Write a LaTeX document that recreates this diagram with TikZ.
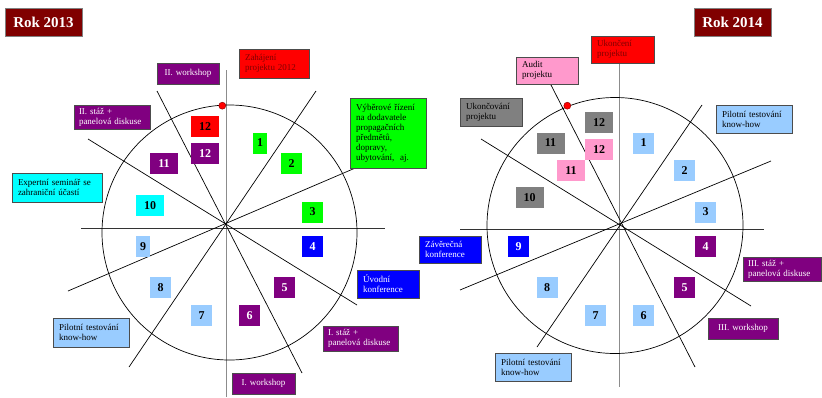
\documentclass[tikz,border=0pt]{standalone}
\usepackage{fontspec}
\setmainfont{Liberation Serif}
\usetikzlibrary{calc}
\definecolor{yearred}{HTML}{800000}
\definecolor{vpurple}{HTML}{800080}
\definecolor{vred}{HTML}{FF0000}
\definecolor{vgreen}{HTML}{00FF00}
\definecolor{vcyan}{HTML}{00FFFF}
\definecolor{vblue}{HTML}{0000FF}
\definecolor{vlight}{HTML}{99CCFF}
\definecolor{vpink}{HTML}{FF99CC}
\definecolor{vgrey}{HTML}{808080}
\def\tagfont{\fontsize{9}{10}\selectfont}
\tikzset{
	tag/.style={draw=black!70, line width=0.7pt, inner sep=0pt, align=left, font=\tagfont},
	num/.style={inner sep=0pt, minimum width=21, minimum height=21, font=\bfseries\fontsize{12}{12}\selectfont},
	twodig/.style={minimum width=28},
	slimdig/.style={minimum width=14},
	yearbox/.style={fill=yearred, draw=black!50, line width=0.8pt, text=white, inner sep=0pt,
		minimum width=77, minimum height=28, font=\bfseries\fontsize{15}{15}\selectfont},
	spoke/.style={line width=0.7pt},
	crossline/.style={line width=0.9pt, color=black!80},
	upright/.style={line width=1pt, color=black!45},
	knob/.style={circle, fill=vred, draw=red!60!black, line width=0.5pt, inner sep=0pt, minimum size=7}
}

\begin{document}
\begin{tikzpicture}[x=1pt, y=-1pt]
		%%%%% FRAME %%%%%
		\useasboundingbox (0,0) rectangle (822,397);
		
		%%%%% ROK 2013 %%%%%
		\draw[upright] (226,70) -- (226,397);
		\draw[crossline] (81,228.5) -- (385,228.5);
		\draw[spoke] (157,91) -- (302,373);
		\draw[spoke] (316,91) -- (129,367);
		\draw[spoke] (88,139) -- (357,305);
		\draw[spoke] (360,166) -- (68,291);
		\draw[spoke] (229.5,232.5) circle (127.5);
		\node[knob] (startdot) at (222.3,105.7) {};
		
		\node[yearbox] (rok13) at (43.5,22) {Rok 2013};
		
		\node[num, twodig, fill=vred] (a12r) at (205,126.5) {12};
		\node[num, twodig, fill=vpurple, text=white] (a12p) at (205,153.5) {12};
		\node[num, twodig, fill=vpurple, text=white] (a11) at (164,163.5) {11};
		\node[num, slimdig, fill=vgreen] (a1) at (260,143) {1};
		\node[num, fill=vgreen] (a2) at (291.5,163.5) {2};
		\node[num, twodig, fill=vcyan] (a10) at (150,205.5) {10};
		\node[num, fill=vgreen] (a3) at (312.5,212) {3};
		\node[num, fill=vblue, text=white] (a4) at (312.5,246.5) {4};
		\node[num, slimdig, fill=vlight] (a9) at (143,246.5) {9};
		\node[num, fill=vlight] (a8) at (160.5,287.5) {8};
		\node[num, fill=vpurple, text=white] (a5) at (284.5,287.5) {5};
		\node[num, fill=vlight] (a7) at (201.5,315.5) {7};
		\node[num, fill=vpurple, text=white] (a6) at (249.5,315.5) {6};
		
		\node[tag, fill=vpurple, text=white, minimum width=62, minimum height=21, text width=54pt, align=center] (wsII) at (188,73.5) {II. workshop};
		\node[tag, fill=vred, text=yearred, minimum width=70, minimum height=29, text width=58pt] (zahaj) at (274,63.5) {Zahájení\\projektu 2012};
		\node[tag, fill=vpurple, text=white, minimum width=76, minimum height=24, text width=66pt] (stazII) at (112,117) {II. stáž +\\panelová diskuse};
		\node[tag, fill=vgreen, minimum width=76, minimum height=70, text width=64pt] (vyber) at (388,133) {Výběrové řízení\\na dodavatele\\propagačních\\předmětů,\\dopravy,\\ubytování,~~aj.};
		\node[tag, fill=vcyan, minimum width=90, minimum height=29, text width=78pt] (expert) at (57,187.5) {Expertní seminář se\\zahraniční účastí};
		\node[tag, fill=vblue, text=white, minimum width=62, minimum height=28, text width=50pt] (uvod) at (388,284) {Úvodní\\konference};
		\node[tag, fill=vpurple, text=white, minimum width=75, minimum height=25, text width=65pt] (stazI) at (360.5,338.5) {I. stáž +\\panelová diskuse};
		\node[tag, fill=vlight, minimum width=76, minimum height=29, text width=64pt] (pilotA) at (91,332.5) {Pilotní testování\\know-how};
		\node[tag, fill=vpurple, text=white, minimum width=63, minimum height=21, text width=55pt, align=center] (wsI) at (263.5,383.5) {I. workshop};
		
		%%%%% ROK 2014 %%%%%
		\draw[upright] (619,63) -- (619,387);
		\draw[crossline] (460,229) -- (764,229);
		\draw[spoke] (551,85) -- (695,367);
		\draw[spoke] (702,105) -- (537,347);
		\draw[spoke] (481,139) -- (751,306);
		\draw[spoke] (771,161) -- (460,290);
		\draw[spoke] (615,225.5) circle (128);
		\node[knob] (enddot) at (567.3,105.7) {};
		
		\node[yearbox] (rok14) at (732.5,22) {Rok 2014};
		
		\node[num, twodig, fill=vgrey] (b12g) at (599,122.5) {12};
		\node[num, twodig, fill=vpink] (b12p) at (599,149.5) {12};
		\node[num, twodig, fill=vgrey] (b11g) at (550.5,143) {11};
		\node[num, twodig, fill=vpink] (b11p) at (571,170.5) {11};
		\node[num, fill=vlight] (b1) at (643.5,143) {1};
		\node[num, fill=vlight] (b2) at (684.5,170.5) {2};
		\node[num, twodig, fill=vgrey] (b10) at (529.5,197.5) {10};
		\node[num, fill=vlight] (b3) at (705.5,212) {3};
		\node[num, fill=vpurple, text=white] (b4) at (705.5,246.5) {4};
		\node[num, fill=vblue, text=white] (b9) at (518.5,246.5) {9};
		\node[num, fill=vlight] (b8) at (547,287.5) {8};
		\node[num, fill=vpurple, text=white] (b5) at (684.5,287.5) {5};
		\node[num, fill=vlight] (b7) at (595.5,315.5) {7};
		\node[num, fill=vlight] (b6) at (643.5,315.5) {6};
		
		\node[tag, fill=vred, text=yearred, minimum width=63, minimum height=27, text width=51pt] (ukonc) at (622.5,49.5) {Ukončení\\projektu};
		\node[tag, fill=vpink, minimum width=62, minimum height=27, text width=50pt] (audit) at (547,70.5) {Audit\\projektu};
		\node[tag, fill=vgrey, minimum width=62, minimum height=28, text width=50pt] (ukoncov) at (491,112) {Ukončování\\projektu};
		\node[tag, fill=vlight, minimum width=76, minimum height=28, text width=64pt] (pilotB) at (754,119) {Pilotní testování\\know-how};
		\node[tag, fill=vblue, text=white, minimum width=62, minimum height=27, text width=50pt] (zaver) at (450,249.5) {Závěrečná\\konference};
		\node[tag, fill=vpurple, text=white, minimum width=78, minimum height=24, text width=68pt] (stazIII) at (782,269) {III. stáž +\\panelová diskuse};
		\node[tag, fill=vpurple, text=white, minimum width=70, minimum height=21, text width=62pt, align=center] (wsIII) at (743,328.5) {III. workshop};
		\node[tag, fill=vlight, minimum width=76, minimum height=28, text width=64pt] (pilotC) at (533,367) {Pilotní testování\\know-how};
		
\end{tikzpicture}
\end{document}
